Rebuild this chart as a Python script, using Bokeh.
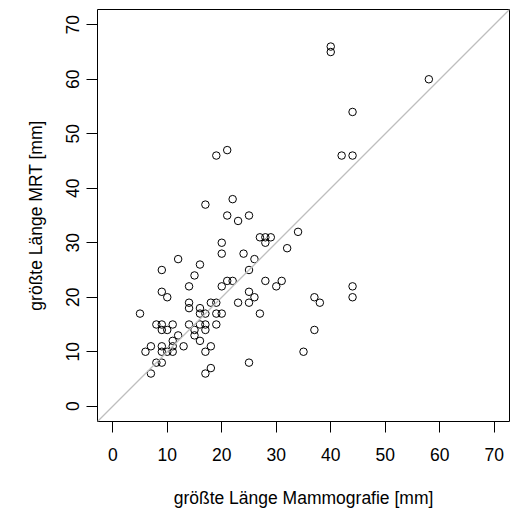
from bokeh.plotting import figure
from bokeh.models import Range1d, FixedTicker, Slope, ColumnDataSource
from bokeh.embed import file_html
from bokeh.resources import INLINE

# größte Länge Mammografie [mm]
mammo = [17, 22, 21, 23, 25, 27, 20, 20, 24, 26, 12, 16, 9, 15, 25, 21, 22, 20, 14, 9,
         10, 25, 26, 27, 5, 14, 14, 16, 16, 18, 19, 17, 19, 20, 23, 25, 8, 9, 11, 9,
         10, 14, 16, 17, 19, 15, 17, 12, 11, 11, 15, 16, 7, 6, 9, 9, 10, 11, 13, 18,
         17, 8, 9, 7, 18, 17, 25,
         40, 40, 58, 44, 42, 44,
         28, 29, 28, 34, 32, 28, 31, 30, 37, 38, 44, 44, 37, 35,
         19, 21]
# größte Länge MRT [mm]
mrt = [37, 38, 35, 34, 35, 31, 30, 28, 28, 27, 27, 26, 25, 24, 25, 23, 23, 22, 22, 21,
       20, 21, 20, 17, 17, 19, 18, 18, 17, 19, 19, 17, 17, 17, 19, 19, 15, 15, 15, 14,
       14, 15, 15, 15, 15, 14, 14, 13, 12, 11, 13, 12, 11, 10, 11, 10, 10, 10, 11, 11,
       10, 8, 8, 6, 7, 6, 8,
       66, 65, 60, 54, 46, 46,
       31, 31, 30, 32, 29, 23, 23, 22, 20, 19, 22, 20, 14, 10,
       46, 47]

tick_values = [0, 10, 20, 30, 40, 50, 60, 70]
x_title = "größte Länge Mammografie [mm]"
y_title = "größte Länge MRT [mm]"

FONT = "Liberation Sans"

p = figure(width=510, height=510, output_backend="svg", toolbar_location=None,
           x_range=Range1d(-2.8, 72.8), y_range=Range1d(-2.8, 72.8),
           min_border_left=97, min_border_right=1, min_border_top=9, min_border_bottom=88)

p.background_fill_color = "white"
p.border_fill_color = "white"
p.outline_line_color = "black"
p.outline_line_width = 1
p.grid.visible = False

src = ColumnDataSource(dict(x=mammo, y=mrt))

p.add_layout(Slope(gradient=1, y_intercept=0, line_color="#bebebe", line_width=1.2))
p.scatter("x", "y", source=src, marker="circle", size=7.5, fill_color=None,
          line_color="black", line_width=1)

for ax in (p.xaxis[0], p.yaxis[0]):
    ax.ticker = FixedTicker(ticks=tick_values)
    ax.minor_tick_line_color = None
    ax.major_tick_in = 0
    ax.major_tick_out = 11
    ax.major_tick_line_color = "black"
    ax.axis_line_color = None
    ax.major_label_text_font = FONT
    ax.major_label_text_font_size = "17.5px"
    ax.major_label_text_color = "black"
    ax.axis_label_text_font = FONT
    ax.axis_label_text_font_size = "17.5px"
    ax.axis_label_text_font_style = "normal"
    ax.axis_label_text_color = "black"

p.xaxis[0].axis_label = x_title
p.yaxis[0].axis_label = y_title
p.xaxis[0].major_label_standoff = 15
p.xaxis[0].axis_label_standoff = 24
p.yaxis[0].major_label_orientation = "vertical"
p.yaxis[0].major_label_standoff = 7
p.yaxis[0].axis_label_standoff = 18

open("out.html", "w").write(file_html(p, INLINE))
